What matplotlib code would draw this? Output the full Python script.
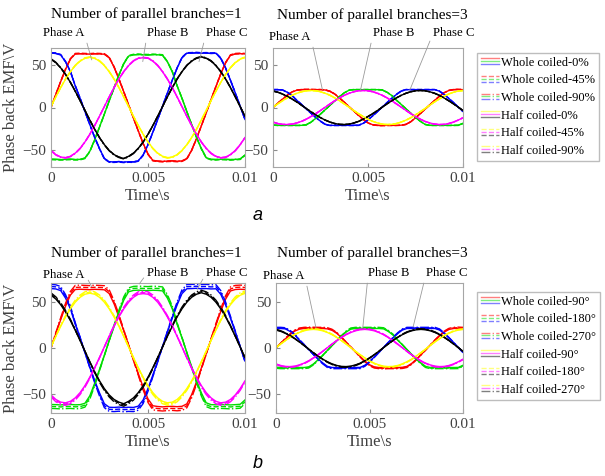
import numpy as np
import matplotlib
matplotlib.use("Agg")
import matplotlib.pyplot as plt
from matplotlib.legend_handler import HandlerBase
from matplotlib.lines import Line2D

plt.rcParams['font.family'] = ['Liberation Serif', 'DejaVu Serif']

# time base, s
t = np.linspace(0, 0.01, 41)

# one parallel branch (V)
whole1_a = [0, 15.5, 30.5, 45, 57, 63, 63.3, 63, 62.8, 63.2, 63, 62.7, 58.6, 47.6, 33.5, 18.5, 3.1,
            -12.4, -27.5, -42.2, -54.8, -62.2, -63, -63.4, -63, -62.8, -63.2, -62.8, -60.2, -50.2, -36.5,
            -21.5, -6.2, 9.3, 24.5, 39.4, 52.6, 61.4, 63, 63.3, 63]
whole1_b = [-60.8, -61, -61.3, -61, -60.8, -61.2, -61, -59.5, -51.5, -38, -23, -7.8, 7.8, 23, 38, 51.5,
            60.5, 62, 62.3, 62, 61.8, 62.2, 62, 61.5, 53.7, 42.2, 25.5, 10.9, -4.7, -20, -35, -48.3,
            -59, -61, -61.2, -60.8, -61, -61.3, -61, -60.6, -55.9]
whole1_c = [64, 63.6, 61.8, 53.7, 42.2, 25.5, 10.9, -4.7, -20, -35, -48.3, -60, -63.8, -64, -63.6,
            -64.2, -63.8, -64, -62.6, -55.9, -43.6, -29, -14, 1.6, 17, 32, 46.3, 58.5, 63.8, 64,
            64.3, 63.8, 64, 63.6, 63.8, 57.8, 46.3, 32, 17, 1.6, -14]
half1_a = [1.1, 12.5, 23.4, 33.4, 42.1, 49.3, 54.6, 57.9, 59, 57.9, 54.6, 49.3, 42.1, 33.4, 23.4,
           12.5, 1.1, -10.2, -21.2, -31.4, -40.5, -48.0, -53.7, -57.4, -59.0, -58.3, -55.4, -50.5,
           -43.7, -35.3, -25.5, -14.7, -3.4, 8.0, 19.1, 29.5, 38.8, 46.6, 52.7, 56.8, 58.8]
half1_b = [-50.5, -55.4, -58.3, -59.0, -57.4, -53.7, -48.0, -40.5, -31.4, -21.2, -10.2, 1.1, 12.5,
           23.4, 33.4, 42.1, 49.3, 54.6, 57.9, 58.5, 57.9, 54.6, 49.3, 42.1, 33.4, 23.4, 12.5, 1.1,
           -10.2, -21.2, -31.4, -40.5, -48.0, -53.7, -57.4, -59.0, -58.3, -55.4, -50.5, -43.7, -35.3]
half1_c = [56.8, 52.7, 46.6, 38.8, 29.5, 19.1, 8.0, -3.4, -14.7, -25.5, -35.3, -43.7, -50.5, -55.4,
           -58.3, -60.0, -57.4, -53.7, -48.0, -40.5, -31.4, -21.2, -10.2, 1.1, 12.5, 23.4, 33.4,
           42.1, 49.3, 54.6, 57.9, 59.5, 57.9, 54.6, 49.3, 42.1, 33.4, 23.4, 12.5, 1.1, -10.2]

# three parallel branches
whole3_a = [0, 5, 9.8, 14.4, 18.2, 20.3, 21, 21.2, 21.1, 21, 21, 20.6, 19, 15.8, 11.2, 6.2, 1,
            -4.1, -9.2, -14, -18, -20.3, -21, -21.2, -21, -21, -21, -20.8, -19.8, -16.7, -12.2,
            -7.2, -2.1, 3.1, 8.2, 13, 17.2, 20, 21, 21.2, 21]
whole3_b = [-20.6, -21, -21, -21, -21, -21, -21, -20.3, -17.2, -12.7, -7.7, -2.6, 2.6, 7.7, 12.7,
            17.2, 20.3, 21, 21, 21, 21, 21, 21, 20.6, 17.9, 14.1, 8.5, 3.6, -1.6, -6.7, -11.7,
            -16.1, -19.8, -21, -21, -21, -21, -21, -21, -20.9, -18.6]
whole3_c = [21, 21, 20.6, 17.9, 14.1, 8.5, 3.6, -1.6, -6.7, -11.7, -16.1, -19.8, -21, -21, -21,
            -21, -21, -21, -20.9, -18.6, -14.5, -9.7, -4.7, 0.5, 5.7, 10.7, 15.4, 19.3, 21, 21, 21,
            21, 21, 21, 21, 19.3, 15.4, 10.7, 5.7, 0.5, -4.7]
half3_a = [0.4, 4.2, 7.9, 11.3, 14.3, 16.7, 18.5, 19.6, 20, 19.6, 18.5, 16.7, 14.3, 11.3, 7.9, 4.2,
           0.4, -3.5, -7.2, -10.6, -13.7, -16.3, -18.2, -19.5, -20, -19.8, -18.8, -17.1, -14.8, -12,
           -8.6, -5, -1.2, 2.7, 6.5, 10, 13.2, 15.8, 17.9, 19.3, 19.9]
half3_b = [-17.1, -18.8, -19.8, -20, -19.5, -18.2, -16.3, -13.7, -10.6, -7.2, -3.5, 0.4, 4.2, 7.9,
           11.3, 14.3, 16.7, 18.5, 19.6, 20, 19.6, 18.5, 16.7, 14.3, 11.3, 7.9, 4.2, 0.4, -3.5,
           -7.2, -10.6, -13.7, -16.3, -18.2, -19.5, -20, -19.8, -18.8, -17.1, -14.8, -12]
half3_c = [19.3, 17.9, 15.8, 13.2, 10, 6.5, 2.7, -1.2, -5, -8.6, -12, -14.8, -17.1, -18.8, -19.8,
           -20, -19.5, -18.2, -16.3, -13.7, -10.6, -7.2, -3.5, 0.4, 4.2, 7.9, 11.3, 14.3, 16.7,
           18.5, 19.6, 20, 19.6, 18.5, 16.7, 14.3, 11.3, 7.9, 4.2, 0.4, -3.5]

# peak ratio of each variant to the solid one (solid, dashed, dash-dot)
a1_whole_k = [1.0, 1.01, 1.0]
a1_half_k = [1.0, 1.0, 1.01]
a3_whole_k = [1.0, 1.01, 1.0]
a3_half_k = [1.0, 1.0, 1.01]
b1_whole_k = [1.0, 1.035, 1.07]
b1_half_k = [1.0, 1.02, 1.045]
b3_whole_k = [1.0, 1.03, 1.06]
b3_half_k = [1.0, 1.02, 1.04]

labels_a = ['Whole coiled-0%', 'Whole coiled-45%', 'Whole coiled-90%',
            'Half coiled-0%', 'Half coiled-45%', 'Half coiled-90%']
labels_b = ['Whole coiled-90°', 'Whole coiled-180°', 'Whole coiled-270°',
            'Half coiled-90°', 'Half coiled-180°', 'Half coiled-270°']

whole_colors = ['#ff0000', '#00dd00', '#0000ff']
half_colors = ['#ffff00', '#ff00ff', '#000000']
styles = ['-', '--', '-.']

W, H = 605, 476


def px(x, y):
    return x / W, 1 - y / H


class Stack:
    def __init__(self, colors, ls):
        self.colors = colors
        self.ls = ls


class StackHandler(HandlerBase):
    def create_artists(self, legend, orig, xd, yd, w, h, fs, trans):
        arts = []
        for i, c in enumerate(orig.colors):
            y = -yd + h * (0.85 - 0.33 * i)
            arts.append(Line2D([-xd, -xd + w], [y, y], color=c, ls=orig.ls, lw=1.0,
                               alpha=0.5, transform=trans))
        return arts


panels = [
    dict(box=(51, 48, 245, 167), whole=(whole1_a, whole1_b, whole1_c), half=(half1_a, half1_b, half1_c),
         wk=a1_whole_k, hk=a1_half_k, title='Number of parallel branches=1', tpos=(146, 14), ylab=True,
         ann=[('Phase A', 0.0021, 56, 64, 33, (1, 0.3)), ('Phase B', 0.00473, 54, 168, 33, (0, 0.5)),
              ('Phase C', 0.00763, 54, 227, 33, (0, 0.5))]),
    dict(box=(273, 48, 463, 167), whole=(whole3_a, whole3_b, whole3_c), half=(half3_a, half3_b, half3_c),
         wk=a3_whole_k, hk=a3_half_k, title='Number of parallel branches=3', tpos=(372, 15), ylab=False,
         ann=[('Phase A', 0.0026, 21, 290, 37, (1, 0.5)), ('Phase B', 0.0046, 20, 394, 33, (0, 0.5)),
              ('Phase C', 0.0072, 20.5, 454, 33, (0, 0.5))]),
    dict(box=(51, 283, 245, 413), whole=(whole1_a, whole1_b, whole1_c), half=(half1_a, half1_b, half1_c),
         wk=b1_whole_k, hk=b1_half_k, title='Number of parallel branches=1', tpos=(146, 253), ylab=True,
         ann=[('Phase A', 0.0021, 66, 64, 275, (1, 0.6)), ('Phase B', 0.00455, 69, 168, 273, (0, 0.5)),
              ('Phase C', 0.00753, 63, 227, 273, (0, 0.5))]),
    dict(box=(276, 283, 463, 413), whole=(whole3_a, whole3_b, whole3_c), half=(half3_a, half3_b, half3_c),
         wk=b3_whole_k, hk=b3_half_k, title='Number of parallel branches=3', tpos=(372, 253), ylab=False,
         ann=[('Phase A', 0.00214, 21.5, 284, 276, (1, 0.5)), ('Phase B', 0.00464, 21.5, 389, 273, (0, 0.5)),
              ('Phase C', 0.00733, 22.5, 447, 273, (0, 0.5))]),
]

fig = plt.figure(figsize=(W / 100, H / 100), dpi=100)

for p in panels:
    x0, y0, x1, y1 = p['box']
    ax = fig.add_axes([x0 / W, 1 - y1 / H, (x1 - x0) / W, (y1 - y0) / H])
    for j, ls in enumerate(styles):
        for y, c in zip(p['whole'], whole_colors):
            ax.plot(t, np.array(y) * p['wk'][j], color=c, ls=ls, lw=1.0)
    for j, ls in enumerate(styles):
        for y, c in zip(p['half'], half_colors):
            ax.plot(t, np.array(y) * p['hk'][j], color=c, ls=ls, lw=1.0)
    ax.set_xlim(0, 0.01)
    ax.set_ylim(-70, 70)
    ax.set_xticks([0, 0.005, 0.01])
    ax.set_xticklabels(['0', '0.005', '0.01'])
    ax.set_yticks([-50, 0, 50])
    ax.tick_params(direction='in', length=3, color='#8c8c8c', labelcolor='#404040', labelsize=11)
    for s in ax.spines.values():
        s.set_color('#a6a6a6')
        s.set_linewidth(0.8)
    ax.set_xlabel('Time\\s', fontsize=12, color='#404040', labelpad=2)
    if p['ylab']:
        ax.set_ylabel('Phase back EMF\\V', fontsize=12, color='#404040', labelpad=2)
    fig.text(*px(*p['tpos']), p['title'], ha='center', va='center', fontsize=11)
    for name, tx, vy, lx, ly, rp in p['ann']:
        ax.annotate(name, xy=(tx, vy), xycoords='data',
                    xytext=((lx - x0) / (x1 - x0), (y1 - ly) / (y1 - y0)), textcoords='axes fraction',
                    ha='center', va='center', fontsize=9.2, annotation_clip=False,
                    arrowprops=dict(arrowstyle='-', color='#9a9a9a', lw=0.6, relpos=rp,
                                    shrinkA=1, shrinkB=0))

for labels, top in [(labels_a, 53), (labels_b, 292)]:
    handles = [Stack(whole_colors, s) for s in styles] + [Stack(half_colors, s) for s in styles]
    fig.legend(handles, labels, handler_map={Stack: StackHandler()}, loc='upper left',
               bbox_to_anchor=px(477, top), fontsize=9, handlelength=1.5, handletextpad=0.15,
               labelspacing=0.45, borderpad=0.3, borderaxespad=0, fancybox=False,
               edgecolor='#bdbdbd', framealpha=1)

fig.text(*px(258, 216), 'a', fontsize=13, style='italic', family='Liberation Sans',
         ha='center', va='center')
fig.text(*px(258, 463), 'b', fontsize=13, style='italic', family='Liberation Sans',
         ha='center', va='center')

fig.savefig('out.png', dpi=100)
